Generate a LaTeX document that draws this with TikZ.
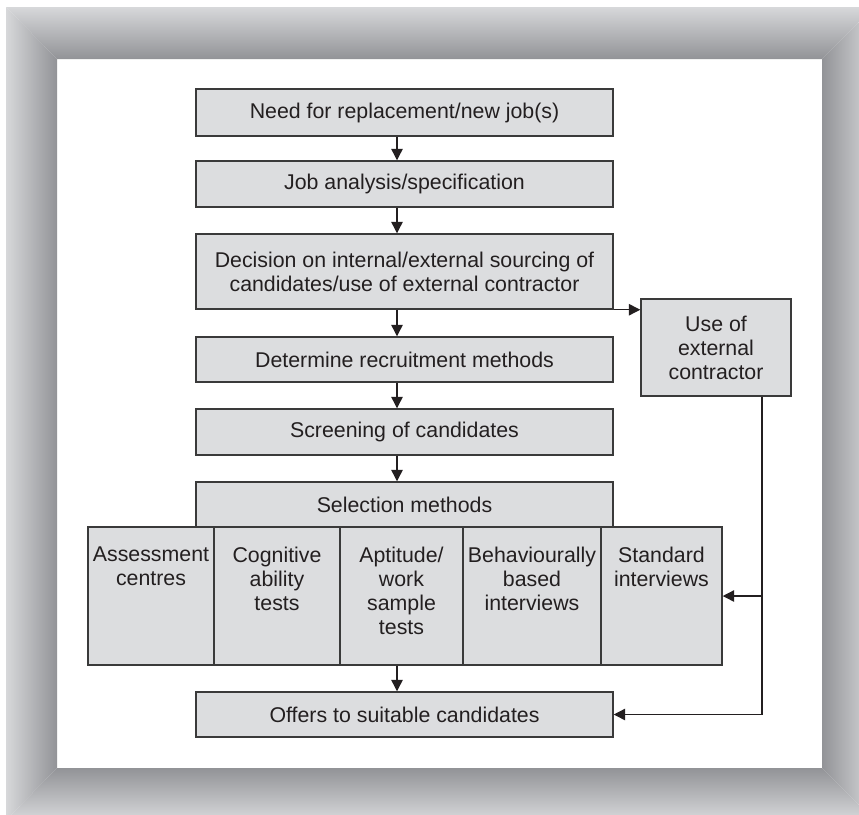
\documentclass[tikz,border=0pt]{standalone}
\usepackage{fontspec}
\setmainfont{Liberation Sans}
\usetikzlibrary{arrows.meta,calc}

\definecolor{boxfill}{HTML}{DCDDDF}
\definecolor{boxline}{HTML}{3A3A3A}
\definecolor{ink}{HTML}{231F20}
\definecolor{frameout}{HTML}{D7D8DA}
\definecolor{framein}{HTML}{929397}

\begin{document}
\begin{tikzpicture}[x=0.75pt,y=-0.75pt,
  stage/.style={draw=boxline, line width=1.1pt, fill=boxfill, text=ink,
    font=\fontsize{16}{18}\selectfont, align=center, inner sep=0pt,
    minimum width=417*0.75pt, minimum height=46*0.75pt},
  method/.style={draw=boxline, line width=1.1pt, fill=boxfill,
    inner sep=0pt, minimum height=138*0.75pt},
  methodtext/.style={text=ink, font=\fontsize{16}{18}\selectfont,
    align=center, inner sep=0pt, anchor=north},
  flow/.style={draw=ink, line width=1pt,
    -{Triangle[length=8.5pt,width=8.5pt]}}]

% page area
\useasboundingbox (0,0) rectangle (859,814);
\fill[white] (0,0) rectangle (859,814);
\clip (0,0) rectangle (859,814);

% bevelled grey frame: four graded bands with mitred corners
\begin{scope}
  \clip (6,7) -- (874,7) -- (822,59) -- (57,59) -- cycle;
  \shade[top color=frameout, bottom color=framein] (6,7) rectangle (874,59);
\end{scope}
\begin{scope}
  \clip (57,768) -- (822,768) -- (874,820) -- (6,820) -- cycle;
  \shade[top color=framein, bottom color=frameout] (6,768) rectangle (874,820);
\end{scope}
\begin{scope}
  \clip (6,7) -- (57,59) -- (57,768) -- (6,820) -- cycle;
  \shade[left color=frameout, right color=framein] (6,7) rectangle (57,820);
\end{scope}
\begin{scope}
  \clip (874,7) -- (822,59) -- (822,768) -- (874,820) -- cycle;
  \shade[left color=framein, right color=frameout] (822,7) rectangle (874,820);
\end{scope}

% guide lines for the connectors
\coordinate (spine) at (397,0);
\coordinate (drop) at (762,0);

% main sequence
\node[stage, minimum height=47*0.75pt] (need) at (404.5,112.5) {Need for replacement/new job(s)};
\node[stage] (spec) at (404.5,184) {Job analysis/specification};
\node[stage, minimum height=75*0.75pt] (source) at (404.5,271.5)
  {Decision on internal/external sourcing of\\candidates/use of external contractor};
\node[stage, minimum height=45*0.75pt] (recruit) at (404.5,359.5) {Determine recruitment methods};
\node[stage] (screen) at (404.5,432) {Screening of candidates};
\node[stage, minimum height=45*0.75pt] (select) at (404.5,504.5) {Selection methods};

% selection methods row
\node[method, minimum width=126*0.75pt] (m1) at (151,596) {};
\node[method, minimum width=126*0.75pt] (m2) at (277,596) {};
\node[method, minimum width=123*0.75pt] (m3) at (401.5,596) {};
\node[method, minimum width=138*0.75pt] (m4) at (532,596) {};
\node[method, minimum width=121*0.75pt] (m5) at (661.5,596) {};
\node[methodtext] at ($(m1.north)+(0,20)$) {Assessment\\centres};
\node[methodtext] at ($(m2.north)+(0,20)$) {Cognitive\\ability\\tests};
\node[methodtext] at ($(m3.north)+(0,20)$) {Aptitude/\\work\\sample\\tests};
\node[methodtext] at ($(m4.north)+(0,20)$) {Behaviourally\\based\\interviews};
\node[methodtext] at ($(m5.north)+(0,20)$) {Standard\\interviews};

\node[stage, minimum height=45*0.75pt] (offers) at (404.5,714.5) {Offers to suitable candidates};

% external route
\node[stage, minimum width=150*0.75pt, minimum height=97*0.75pt] (ext) at (716,347.5)
  {Use of\\external\\contractor};

% connectors
\draw[flow] (need.south -| spine) -- (spec.north -| spine);
\draw[flow] (spec.south -| spine) -- (source.north -| spine);
\draw[flow] (source.south -| spine) -- (recruit.north -| spine);
\draw[flow] (recruit.south -| spine) -- (screen.north -| spine);
\draw[flow] (screen.south -| spine) -- (select.north -| spine);
\draw[flow] (m3.south -| spine) -- (offers.north -| spine);
\draw[flow] (source.south east) -- (source.south east -| ext.west);
\draw[flow] (ext.south -| drop) -- (drop |- offers.east) -- (offers.east);
\draw[flow] (m5.east -| drop) -- (m5.east);

\end{tikzpicture}
\end{document}
